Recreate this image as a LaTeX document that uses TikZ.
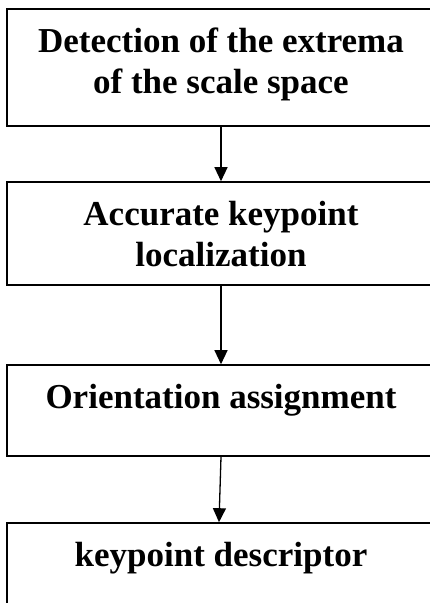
\documentclass[tikz,border=0pt]{standalone}
\usepackage{fontspec}
\setmainfont{Liberation Serif}
\usepackage{tikz}
\usetikzlibrary{arrows.meta}

\begin{document}
\begin{tikzpicture}[->,>={Triangle[length=14pt,width=13pt]},x=1pt,y=-1pt,line width=1.3pt,
	stage/.style={rectangle,draw,line width=1.6pt,minimum width=428pt,inner sep=0pt},
	stage text/.style={align=center,anchor=north,inner sep=0pt,yshift=-19pt,font=\bfseries\fontsize{35}{41}\selectfont}]
	\useasboundingbox (0,0) rectangle (430,603);
	\clip (0,0) rectangle (430,603);
	\draw[-]
		(221,67.5)  node(s1) [stage, minimum height=117pt] {}
		(221,233.5) node(s2) [stage, minimum height=103pt] {}
		(221,410.5) node(s3) [stage, minimum height=91pt] {}
		(221,568.5) node(s4) [stage, minimum height=91pt] {};
	\node(t1) [stage text] at (s1.north) {Detection of the extrema\\of the scale space};
	\node(t2) [stage text] at (s2.north) {Accurate keypoint\\localization};
	\node(t3) [stage text] at (s3.north) {Orientation assignment};
	\node(t4) [stage text] at (s4.north) {keypoint descriptor};
	\draw (s1.south) -- (s2.north);
	\draw (s2.south) -- (s3.north);
	\draw (s3.south) -- ([xshift=-2pt]s4.north);
\end{tikzpicture}
\end{document}
